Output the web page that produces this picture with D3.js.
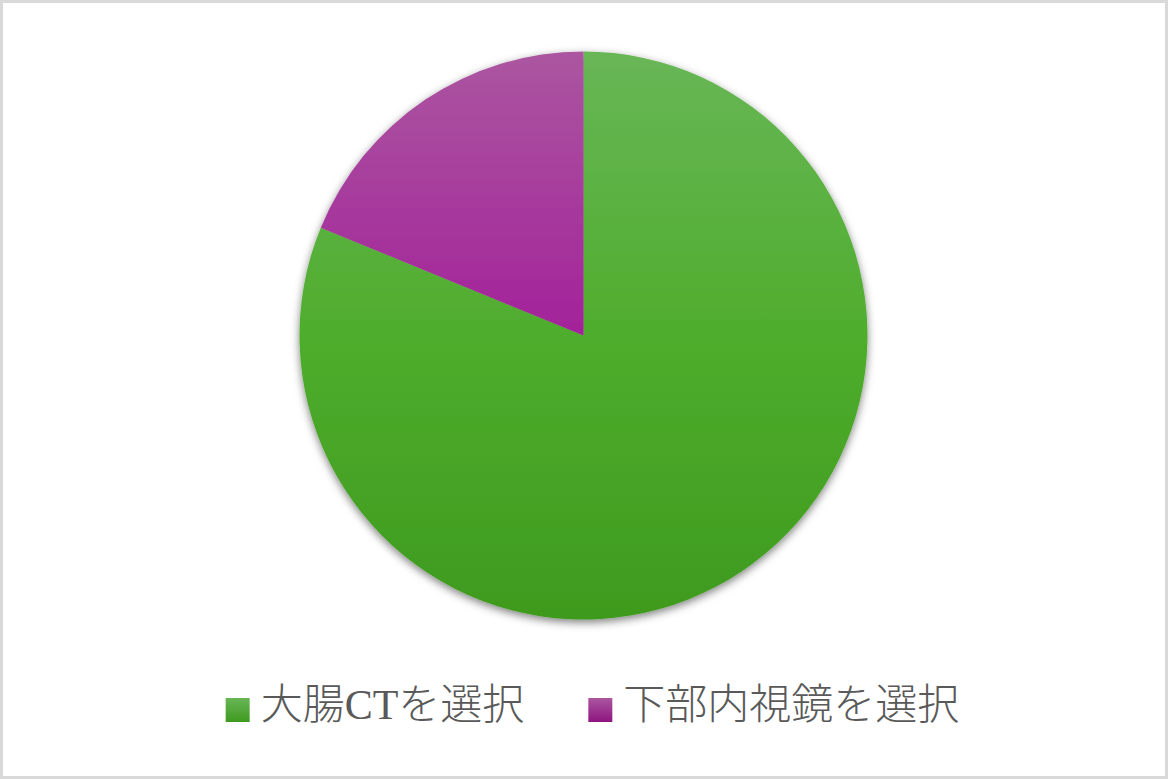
<!DOCTYPE html>
<html>
<head>
<meta charset="utf-8">
<script src="https://cdn.jsdelivr.net/npm/d3@7"></script>
<style>
  html, body { margin: 0; padding: 0; background: #fff; }
  svg { display: block; }
</style>
</head>
<body>
<svg id="chart"></svg>
<script>
// data (share of choices, %)
const categories = ["大腸CTを選択", "下部内視鏡を選択"];
const values = [81.2, 18.8];
const topColors = ["#68b657", "#ab56a0"];
const midColors = ["#4fad2d", "#a3229a"];
const bottomColors = ["#3e9a1e", "#8f1580"];

const W = 1168, H = 779;
const cx = 583.5, cy = 335.5, r = 284;

const svg = d3.select("#chart").attr("width", W).attr("height", H);

svg.append("rect")
  .attr("x", 1.5).attr("y", 1.5)
  .attr("width", W - 3).attr("height", H - 3)
  .attr("fill", "#fff")
  .attr("stroke", "#d9d9d9")
  .attr("stroke-width", 3);

const defs = svg.append("defs");

defs.append("filter")
  .attr("id", "shadow")
  .attr("x", "-20%").attr("y", "-20%")
  .attr("width", "140%").attr("height", "140%")
  .append("feDropShadow")
  .attr("dx", 0).attr("dy", 3)
  .attr("stdDeviation", 4)
  .attr("flood-color", "#000")
  .attr("flood-opacity", 0.5);

// one vertical gradient per slice, spanning the whole pie
categories.forEach((c, i) => {
  const g = defs.append("linearGradient")
    .attr("id", "grad" + i)
    .attr("gradientUnits", "userSpaceOnUse")
    .attr("x1", 0).attr("x2", 0)
    .attr("y1", -r).attr("y2", r);
  g.append("stop").attr("offset", "0%").attr("stop-color", topColors[i]);
  g.append("stop").attr("offset", "50%").attr("stop-color", midColors[i]);
  g.append("stop").attr("offset", "100%").attr("stop-color", bottomColors[i]);

  const lg = defs.append("linearGradient")
    .attr("id", "legGrad" + i)
    .attr("x1", 0).attr("x2", 0).attr("y1", 0).attr("y2", 1);
  lg.append("stop").attr("offset", "0%").attr("stop-color", topColors[i]);
  lg.append("stop").attr("offset", "100%").attr("stop-color", bottomColors[i]);
});

const pie = d3.pie().sort(null).value((d) => d);
const arc = d3.arc().innerRadius(0).outerRadius(r);

const pieGroup = svg.append("g")
  .attr("transform", `translate(${cx},${cy})`)
  .attr("filter", "url(#shadow)");

pieGroup.selectAll("path")
  .data(pie(values))
  .enter()
  .append("path")
  .attr("d", arc)
  .attr("fill", (d, i) => `url(#grad${i})`);

// legend
const legend = svg.append("g");
const sq = 24, gapText = 11, gapItem = 64;
const fontFamily = "'Liberation Serif', 'Noto Sans CJK JP', serif";

const items = legend.selectAll("g")
  .data(categories)
  .enter()
  .append("g");

items.append("rect")
  .attr("width", sq)
  .attr("height", sq)
  .attr("y", 698)
  .attr("fill", (d, i) => `url(#legGrad${i})`);

items.append("text")
  .attr("x", sq + gapText)
  .attr("y", 705)
  .attr("dominant-baseline", "central")
  .attr("font-family", fontFamily)
  .attr("font-weight", 300)
  .attr("font-size", "42px")
  .attr("fill", "#595959")
  .text((d) => d);

let xPos = 0;
const offsets = [];
items.each(function () {
  const w = sq + gapText + d3.select(this).select("text").node().getComputedTextLength();
  offsets.push(xPos);
  xPos += w + gapItem;
});
const total = xPos - gapItem;
const startX = 592.5 - total / 2;
items.attr("transform", (d, i) => `translate(${startX + offsets[i]},0)`);
</script>
</body>
</html>
